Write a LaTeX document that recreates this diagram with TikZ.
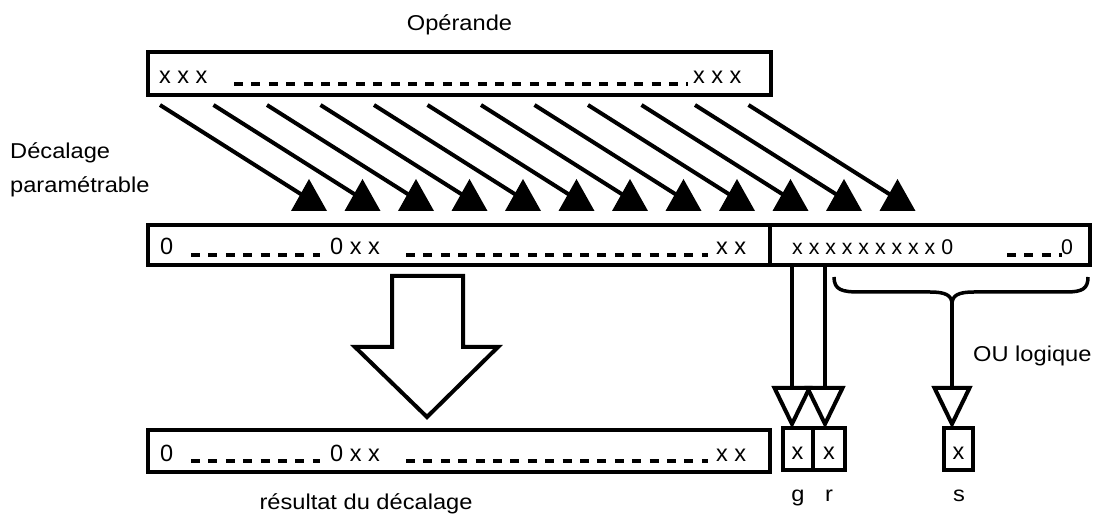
\documentclass[tikz,border=0pt]{standalone}
\usepackage{fontspec}
\setmainfont[FakeStretch=1.1]{Liberation Sans}
\newfontfamily\bitfont{Liberation Sans}
\begin{document}
\begin{tikzpicture}[x=1pt,y=-1pt,
  frame/.style={draw, line width=4pt, inner sep=0pt, outer sep=0pt},
  lbl/.style={font=\fontsize{21.5}{24}\selectfont, inner sep=0pt},
  bittext/.style={font=\bitfont\fontsize{23.5}{26}\selectfont, inner sep=0pt, anchor=base west},
  bitsmall/.style={font=\bitfont\fontsize{21.3}{24}\selectfont, inner sep=0pt, anchor=base west},
  ellipsis/.style={line width=4pt, dash pattern=on 9pt off 8.4pt},
  wire/.style={line width=4pt},
  hollowhead/.style={draw, line width=4pt, fill=white, line join=miter},
]
\useasboundingbox (0,0) rectangle (1098,518);

% ---- registers ----
\node[frame, minimum width=623pt, minimum height=43pt] (operand) at (459.5,73.5) {};
\node[frame, minimum width=622pt, minimum height=40pt] (shiftL) at (459,245) {};
\node[frame, minimum width=320pt, minimum height=40pt] (shiftR) at (930,245) {};
\node[frame, minimum width=622pt, minimum height=42pt] (result) at (459,451) {};
\node[frame, minimum width=30pt, minimum height=42pt] (gbox) at (797.5,449) {};
\node[frame, minimum width=32pt, minimum height=42pt] (rbox) at (829,449) {};
\node[frame, minimum width=29pt, minimum height=42pt] (sbox) at (958.5,449) {};

% ---- register contents ----
\node[bittext] (opA) at (159,84) {x x x};
\draw[ellipsis] (234,84) -- (688,84);
\node[bittext] (opB) at (693,84) {x x x};

\node[bittext] (shA) at (160,255) {0};
\draw[ellipsis] (191,255) -- (320,255);
\node[bittext] (shB) at (330,255) {0 x x};
\draw[ellipsis] (406,255) -- (708,255);
\node[bittext] (shC) at (716,255) {x x};
\node[bitsmall] (shD) at (792,255) {x x x x x x x x x 0};
\draw[ellipsis] (1007,255) -- (1062,255);
\node[bitsmall] (shE) at (1061,255) {0};

\node[bittext] (reA) at (160,461) {0};
\draw[ellipsis] (191,461) -- (320,461);
\node[bittext] (reB) at (330,461) {0 x x};
\draw[ellipsis] (406,461) -- (708,461);
\node[bittext] (reC) at (716,461) {x x};

\node[bittext, anchor=base] (gx) at (797.5,460) {x};
\node[bittext, anchor=base] (rx) at (829,460) {x};
\node[bittext, anchor=base] (sx) at (958.5,460) {x};

% ---- labels ----
\node[lbl, anchor=base] (opLabel) at (459.5,31) {Opérande};
\node[lbl, anchor=base west] (decA) at (10,159) {Décalage};
\node[lbl, anchor=base west] (decB) at (10,193) {paramétrable};
\node[lbl, anchor=base west] (orLabel) at (973,362) {OU logique};
\node[lbl, anchor=base] (resLabel) at (366,509) {résultat du décalage};
\node[lbl, anchor=base] (gLabel) at (798,501) {g};
\node[lbl, anchor=base] (rLabel) at (829,501) {r};
\node[lbl, anchor=base] (sLabel) at (959,501) {s};

% ---- parametrised shift: one arrow per bit ----
\foreach \i in {0,...,11} {
  \coordinate (src\i) at ({160+53.5*\i},105);
  \coordinate (dst\i) at ({307+53.5*\i},198);
  \draw[wire] (src\i) -- (dst\i);
  \fill ({309+53.5*\i},179) -- ++(18,32) -- ++(-36,0) -- cycle;
}

% ---- copy of the shifted value ----
\draw[line width=4pt, fill=white, line join=miter]
  (392,276) -- (463,276) -- (463,347) -- (498,347) -- (427,417)
  -- (355,347) -- (392,347) -- cycle;

% ---- guard and round bits ----
\coordinate (gtap) at (792,267);
\coordinate (gend) at (792,388);
\draw[wire] (gtap) -- (gend);
\draw[hollowhead] (774.5,388) -- (809.5,388) -- (792,424) -- cycle;
\coordinate (rtap) at (825,267);
\coordinate (rend) at (825,388);
\draw[wire] (rtap) -- (rend);
\draw[hollowhead] (807.5,388) -- (842.5,388) -- (825,424) -- cycle;

% ---- sticky bit: OR of the remaining bits ----
\draw[line width=3.5pt]
  (834,277) .. controls (834,290) and (842,292) .. (860,292)
  -- (930,292) .. controls (945,292) and (952,295) .. (952,304)
  .. controls (952,295) and (959,292) .. (974,292)
  -- (1066,292) .. controls (1082,292) and (1088,289) .. (1088,277);
\coordinate (stap) at (952,303);
\coordinate (send) at (952,388);
\draw[wire] (stap) -- (send);
\draw[hollowhead] (934.5,388) -- (969.5,388) -- (952,424) -- cycle;
\end{tikzpicture}
\end{document}
